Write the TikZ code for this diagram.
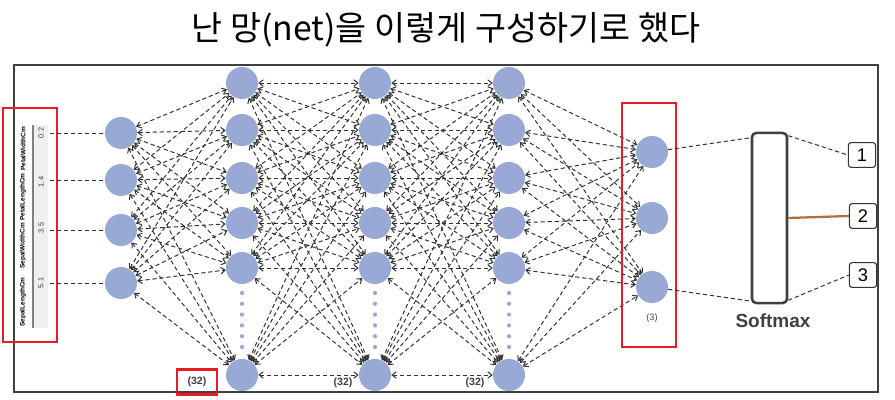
\documentclass[tikz,border=0pt]{standalone}
\usepackage{fontspec}
\setmainfont{Liberation Sans}
\setsansfont{Liberation Sans}
\newfontfamily\krfont{Noto Sans CJK KR}
\usetikzlibrary{arrows.meta}
\definecolor{unitblue}{RGB}{152,169,214}
\definecolor{linkgray}{RGB}{50,50,50}
\definecolor{boxred}{RGB}{232,28,36}
\definecolor{outbrown}{RGB}{178,110,62}

\begin{document}
\begin{tikzpicture}[
    x=0.025cm, y=-0.025cm,
    >={Straight Barb[length=3pt,width=4.6pt]},
    unit/.style   = {circle, fill=unitblue, minimum size=0.8cm, inner sep=0pt},
    link/.style   = {draw=linkgray, dash pattern=on 3pt off 2pt, line width=0.7pt},
    redbox/.style = {draw=boxred, line width=1.6pt},
    cls/.style    = {draw=black!80, rounded corners=2pt, line width=0.8pt,
                     minimum width=0.68cm, minimum height=0.62cm, inner sep=0pt,
                     font=\fontsize{13}{14}\selectfont},
    cnt/.style    = {font=\fontsize{7.5}{8}\selectfont\bfseries, text=black!75},
    hdr/.style    = {rotate=90, font=\fontsize{4.6}{5}\selectfont\bfseries},
    val/.style    = {rotate=90, font=\fontsize{5.2}{6}\selectfont, text=black!80},
  ]
  \useasboundingbox (0,0) rectangle (895,400);
  % title and frame
  \node[font=\krfont\fontsize{24}{27}\selectfont] (title) at (446,30)
    {난 망(net)을 이렇게 구성하기로 했다};
  \draw[black!75, line width=0.8pt] (14,65) rectangle (878,392);
  % input table (rotated)
  \fill[black!6] (33,125) rectangle (48,328);
  \draw[black!50, line width=0.8pt] (33,125) -- (33,328);
  \node[hdr] (sl) at (23,302) {SepalLengthCm};
  \node[hdr] (sw) at (23,246) {SepalWidthCm};
  \node[hdr] (pl) at (23,197) {PetalLengthCm};
  \node[hdr] (pw) at (23,149) {PetalWidthCm};
  \node[val] (v1) at (41,283) {5.1};
  \node[val] (v2) at (41,228) {3.5};
  \node[val] (v3) at (41,182) {1.4};
  \node[val] (v4) at (41,133) {0.2};
  \draw[redbox] (3,108) rectangle (57,342);
  % units
  \foreach \y [count=\i] in {283,230,180,133}
    \node[unit] (in-\i) at (121,\y) {};
  \foreach \x/\l in {242/a,375/b,509/c}{
    \foreach \y [count=\i] in {83,130,178,223,268,375}
      \node[unit] (\l-\i) at (\x,\y) {};
    \foreach \k in {0,...,5}
      \fill[unitblue] (\x,293+\k*10.8) circle (1.5pt);
  }
  \foreach \y [count=\i] in {152,218,287}
    \node[unit] (out-\i) at (652,\y) {};
  % table rows to input units
  \foreach \i in {1,...,4}{
    \coordinate (t\i) at (50,0 |- in-\i);
    \draw[link] (t\i) -- (in-\i);
  }
  % dense connections
  \foreach \i in {1,...,4}
    \foreach \j in {1,...,6}
      \draw[link,<->] (in-\i) -- (a-\j);
  \foreach \i in {1,...,6}
    \foreach \j in {1,...,6}{
      \draw[link,<->] (a-\i) -- (b-\j);
      \draw[link,<->] (b-\i) -- (c-\j);
    }
  \foreach \i in {1,...,6}
    \foreach \j in {1,2,3}
      \draw[link,<->] (c-\i) -- (out-\j);
  % layer sizes
  \node[cnt, redbox, minimum width=1cm, minimum height=0.62cm, inner sep=0pt] (na) at (197,382) {(32)};
  \node[cnt] (nb) at (343,383) {(32)};
  \node[cnt] (nc) at (475,383) {(32)};
  \node[font=\fontsize{6.5}{7}\selectfont, text=black!75] (nout) at (652,318) {(3)};
  \draw[redbox] (622,103) rectangle (676,347);
  % softmax and classes
  \node[draw=black!75, line width=1.8pt, rounded corners=3pt, minimum width=0.875cm,
        minimum height=4.25cm, inner sep=0pt] (soft) at (769.5,218) {};
  \node[font=\fontsize{13.5}{15}\selectfont\bfseries, text=black!75] (smlbl) at (773,321) {Softmax};
  \node[cls] (k1) at (862,155) {1};
  \node[cls] (k2) at (863,216) {2};
  \node[cls] (k3) at (863,275) {3};
  \draw[link] (out-1) -- ([yshift=-0.15cm]soft.north west);
  \draw[link] (out-3) -- ([yshift=0.08cm]soft.south west);
  \draw[link] ([yshift=-0.1cm]soft.north east) -- (k1.west);
  \draw[outbrown, line width=1.6pt] (soft.east) -- (k2.west);
  \draw[link] ([yshift=0.1cm]soft.south east) -- (k3.west);
\end{tikzpicture}
\end{document}
